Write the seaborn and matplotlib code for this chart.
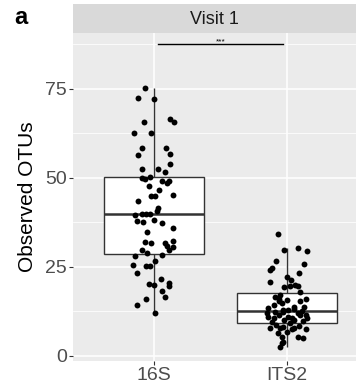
import numpy as np
import pandas as pd
import seaborn as sns
import matplotlib.pyplot as plt

# valores (Visit 1)
otus_16s = [75.3, 72.5, 72.2, 66.6, 65.7, 65.7, 62.6, 62.6, 58.4, 58.4, 56.5, 56.7,
            53.9, 52.5, 52.5, 51.7, 50.3, 50.0, 49.8, 49.2, 49.2, 48.6, 47.8, 46.6,
            45.2, 44.9, 44.9, 43.5, 41.6, 40.7, 39.9, 39.9, 39.9, 39.6, 38.2, 37.9,
            37.6, 37.4, 36.0, 34.8, 32.3, 32.0, 31.7, 31.7, 30.9, 30.6, 29.8, 29.8,
            28.9, 28.4, 28.1, 26.7, 25.6, 25.3, 25.3, 23.3, 21.6, 20.5, 20.2, 19.9,
            19.7, 18.3, 16.6, 16.0, 14.3, 12.1]
jit_16s = [-0.07, -0.12, 0.0, 0.12, -0.075, 0.15, -0.15, -0.02, -0.09, 0.09, -0.12, 0.12,
           0.12, -0.09, 0.03, 0.08, -0.03, -0.09, -0.07, 0.06, 0.11, 0.1, -0.04, 0.04,
           0.14, -0.02, 0.01, -0.12, 0.03, 0.02, -0.09, -0.06, -0.03, -0.14, 0.0, -0.13,
           -0.08, 0.06, 0.14, -0.05, 0.14, -0.07, -0.02, 0.08, 0.1, 0.14, -0.09, 0.11,
           -0.05, 0.06, -0.14, 0.01, -0.16, -0.06, -0.03, -0.13, 0.05, 0.11, -0.04, 0.0,
           0.11, 0.06, 0.08, -0.06, -0.13, 0.01]

otus_its2 = [34.3, 30.3, 29.8, 29.5, 26.7, 25.8, 24.7, 24.2, 23.3, 22.2, 21.3, 20.8,
             19.9, 19.7, 19.7, 19.4,
             18.0, 17.2, 16.6, 16.0, 16.0, 15.7, 15.4, 15.4, 14.9, 14.3, 13.8, 13.8,
             13.5, 13.2, 12.9, 12.9, 12.6,
             12.4, 12.4, 12.1, 12.1, 11.5, 11.5, 11.5, 11.0, 11.0, 10.7, 10.7, 10.7,
             10.1, 10.1, 9.8, 9.6, 9.3,
             8.7, 8.4, 8.1, 7.9, 7.9, 7.9, 7.6, 7.6, 6.7, 6.5, 5.3, 5.3, 5.0, 3.9, 3.7, 2.5]
jit_its2 = [-0.07, 0.08, -0.02, 0.15, -0.08, 0.13, -0.11, -0.13, 0.09, 0.0, 0.03, -0.13,
            0.06, 0.02, 0.08, -0.02,
            0.1, -0.05, -0.09, 0.14, -0.06, 0.0, -0.06, 0.1, -0.04, -0.1, 0.13, 0.05,
            -0.14, 0.05, 0.01, -0.03, 0.11,
            -0.09, -0.03, -0.15, 0.08, -0.06, 0.1, 0.14, -0.14, 0.01, -0.1, 0.04, 0.15,
            -0.02, 0.05, 0.12, -0.11, 0.02,
            -0.08, 0.09, -0.03, -0.13, 0.05, -0.05, 0.14, 0.04, 0.0, -0.07, -0.04, 0.08,
            0.12, -0.03, -0.04, -0.05]

grupos = ['16S', 'ITS2']

df = pd.DataFrame({
    'marker': ['16S'] * len(otus_16s) + ['ITS2'] * len(otus_its2),
    'otus': otus_16s + otus_its2,
    'jit': jit_16s + jit_its2,
})
df['xpos'] = df['marker'].map({g: i for i, g in enumerate(grupos)}) + df['jit']

fonte = ['Liberation Sans', 'DejaVu Sans']
plt.rcParams['font.family'] = fonte

fig = plt.figure(figsize=(3.56, 3.86), dpi=100)
ax = fig.add_axes([0.205, 0.065, 0.795, 0.85])
strip = fig.add_axes([0.205, 0.915, 0.795, 0.075])

ax.set_facecolor('#EBEBEB')
sns.boxplot(data=df, x='marker', y='otus', order=grupos, ax=ax, width=0.75,
            color='white', linecolor='#333333', linewidth=1.0, showfliers=False,
            showcaps=False, medianprops={'linewidth': 1.8, 'color': '#333333'})
ax.scatter(df['xpos'], df['otus'], s=18, color='black', zorder=5, linewidths=0)

# barra de significancia
ax.plot([0.03, 0.97], [87.6, 87.6], color='black', lw=1.0)
ax.text(0.5, 87.3, '***', ha='center', va='bottom', fontsize=6)

ax.set_xlim(-0.61, 1.52)
ax.set_ylim(-1.4, 90.7)
ax.set_yticks([0, 25, 50, 75])
ax.set_yticks([12.5, 37.5, 62.5, 87.5], minor=True)
ax.grid(True, which='major', color='white', lw=1.1)
ax.grid(True, which='minor', axis='y', color='white', lw=0.55)
ax.set_axisbelow(True)
for s in ax.spines.values():
    s.set_visible(False)
ax.tick_params(axis='both', which='major', labelsize=14, labelcolor='#4D4D4D',
               color='#333333', length=3, width=0.8, pad=1.5)
ax.tick_params(axis='y', which='minor', length=0)
ax.set_xlabel('')
ax.set_ylabel('Observed OTUs', fontsize=15, color='black', labelpad=6)

strip.set_facecolor('#D9D9D9')
strip.set_xticks([])
strip.set_yticks([])
for s in strip.spines.values():
    s.set_visible(False)
strip.text(0.5, 0.47, 'Visit 1', ha='center', va='center', fontsize=13, color='#1A1A1A')

fig.text(0.04, 0.955, 'a', fontsize=17, fontweight='bold', ha='left', va='center')

fig.savefig('out.png', dpi=100)
